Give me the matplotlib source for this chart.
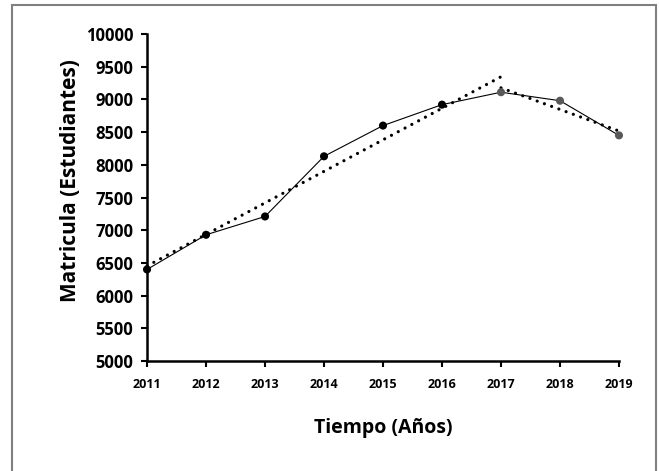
import matplotlib
matplotlib.use("Agg")
import matplotlib.pyplot as plt
import numpy as np
from matplotlib.patches import Rectangle

years = [2011, 2012, 2013, 2014, 2015, 2016, 2017, 2018, 2019]
enrollment = [6400, 6930, 7210, 8130, 8600, 8920, 9110, 8980, 8450]
marker_colors = ["black"] * 6 + ["#595959"] * 3
yticks = [5000, 5500, 6000, 6500, 7000, 7500, 8000, 8500, 9000, 9500, 10000]

plt.rcParams['font.family'] = ['Open Sans', 'DejaVu Sans']

fig = plt.figure(figsize=(6.59, 4.71), dpi=100)
ax = fig.add_axes([0.2231, 0.2335, 0.7162, 0.6943])

# main line
ax.plot(years, enrollment, color="black", lw=0.8, zorder=3, clip_on=False)
ax.scatter(years, enrollment, color=marker_colors, s=34, zorder=4, clip_on=False,
           linewidths=0)

# trend lines (linear fits)
dot_style = (0, (0.01, 2.4))
x1 = np.array(years[:7]); y1 = np.array(enrollment[:7])
p1 = np.polyfit(x1, y1, 1)
ax.plot([2011, 2017], np.polyval(p1, [2011, 2017]), color="black", lw=2.3,
        linestyle=dot_style, dash_capstyle="round", zorder=2, clip_on=False)
x2 = np.array(years[6:]); y2 = np.array(enrollment[6:])
p2 = np.polyfit(x2, y2, 1)
ax.plot([2017, 2019], np.polyval(p2, [2017, 2019]), color="black", lw=2.3,
        linestyle=dot_style, dash_capstyle="round", zorder=2, clip_on=False)

ax.set_xlim(2011, 2019)
ax.set_ylim(5000, 10000)
ax.set_xticks(years)
ax.set_xticklabels([str(y) for y in years], fontsize=9, fontweight="bold")
ax.set_yticks(yticks)
ax.set_yticklabels([str(v) for v in yticks], fontsize=12, fontweight="bold")

for s in ["top", "right"]:
    ax.spines[s].set_visible(False)
for s in ["left", "bottom"]:
    ax.spines[s].set_linewidth(1.8)
ax.tick_params(axis="both", direction="out", length=4, width=1.5)
ax.tick_params(axis="x", pad=8)
ax.tick_params(axis="y", pad=6)

ax.set_ylabel("Matricula (Estudiantes)", fontsize=15, fontweight="bold")
ax.yaxis.set_label_coords(-66 / 472, 0.553)
ax.set_xlabel("Tiempo (Años)", fontsize=14, fontweight="bold", labelpad=20)

fig.patches.append(Rectangle((12/659, -0.01), 644/659, 1 - 5/471 + 0.01, transform=fig.transFigure,
                             fill=False, edgecolor="#808080", lw=1.5))

fig.savefig("out.png", dpi=100)
